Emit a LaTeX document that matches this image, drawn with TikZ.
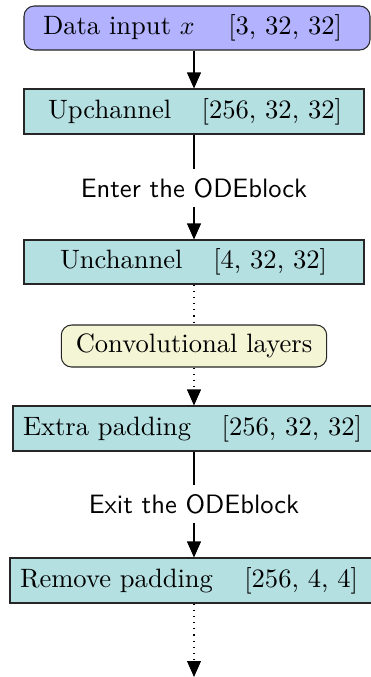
\documentclass[tikz,border=0pt]{standalone}
\usetikzlibrary{arrows.meta}
% one drawing unit
\newdimen\pu \pu=0.3876pt
\definecolor{inputblue}{RGB}{178,178,255}
\definecolor{layerteal}{RGB}{181,224,226}
\definecolor{convyellow}{RGB}{243,245,212}
\newcommand{\labelsize}{\fontsize{10.3}{12.4}\selectfont}
% a layer label: total width, left pad, right pad, name, tensor shape
\newcommand{\layerrow}[5]{\makebox[#1\pu][l]{\hspace{#2\pu}#4\hfill#5\hspace{#3\pu}}}
\tikzset{
  layerbox/.style={draw=black!85, fill=layerteal, line width=0.4pt, font=\labelsize,
    inner xsep=0pt, inner ysep=0pt, minimum height=45\pu},
  inputbox/.style={layerbox, fill=inputblue, rounded corners=4pt, minimum height=44\pu},
  convbox/.style={draw=black!85, fill=convyellow, rounded corners=4pt, font=\labelsize,
    inner xsep=14.5\pu, inner ysep=0pt, minimum height=42\pu},
  stagetext/.style={font=\labelsize\sffamily, inner sep=3.33pt},
  flow/.style={line width=0.4pt, -{Triangle[length=6.2pt,width=5.4pt]}},
  plain/.style={line width=0.4pt},
  dotflow/.style={flow, dotted},
}
\begin{document}
\begin{tikzpicture}[x=\pu, y=-\pu]
  \useasboundingbox (0,0) rectangle (371,677);
  \clip (0,0) rectangle (371,677);

  \node[inputbox] (din) at (197,28)
    {\layerrow{346}{19}{28}{Data input $x$}{[3, 32, 32]}};
  \node[layerbox] (up) at (194,111.5)
    {\layerrow{340}{24}{22}{Upchannel}{[256, 32, 32]}};
  \node[stagetext] (enter) at (194,188) {Enter the ODEblock};
  \node[layerbox, minimum height=44\pu] (unch) at (194,262)
    {\layerrow{340}{36}{37}{Unchannel}{[4, 32, 32]}};
  \node[convbox] (conv) at (194,346) {Convolutional layers};
  \node[layerbox] (extra) at (194,428.5)
    {\layerrow{362}{10}{13}{Extra padding}{[256, 32, 32]}};
  \node[stagetext] (exit) at (194,504) {Exit the ODEblock};
  \node[layerbox] (remove) at (194,580.5)
    {\layerrow{368}{10}{20}{Remove padding}{[256, 4, 4]}};
  \coordinate (out) at (194,677);

  \draw[flow] (din.south -| up.north) -- (up.north);
  \draw[plain] (up.south) -- (enter.north);
  \draw[flow] (enter.south) -- (unch.north);
  \draw[plain, dotted] (unch.south) -- (conv.north);
  \draw[dotflow] (conv.south) -- (extra.north);
  \draw[plain] (extra.south) -- (exit.north);
  \draw[flow] (exit.south) -- (remove.north);
  \draw[dotflow] (remove.south) -- (out);
\end{tikzpicture}
\end{document}
